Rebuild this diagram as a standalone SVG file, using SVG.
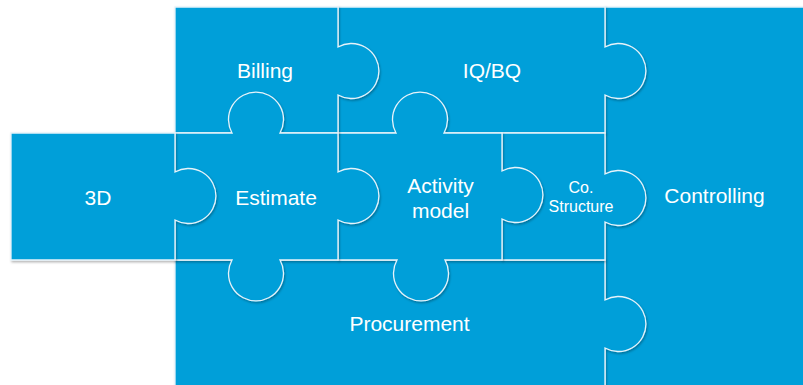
<svg xmlns="http://www.w3.org/2000/svg" width="803" height="385" viewBox="0 0 803 385">
<defs>
<filter id="sh" x="-10%" y="-10%" width="120%" height="120%">
<feDropShadow dx="1" dy="1.5" stdDeviation="1.2" flood-color="#000" flood-opacity="0.3"/>
</filter>
<style>
.pc{fill:#029fd9;stroke:#e6f3fa;stroke-width:1.3;filter:url(#sh)}
.t{fill:#fff;font-family:"Liberation Sans",Arial,sans-serif;font-size:21px;text-anchor:middle}
.s{font-size:16px}
</style>
</defs>
<rect width="803" height="385" fill="#fff"/>
<g id="controlling">
<path class="pc" d="M605,7 H812 V395 H605 Z"/>
<text class="t" x="714.5" y="203">Controlling</text>
</g>
<g id="procurement">
<path class="pc" d="M175,260 H605 V300 A27.5,27.5 0 1 1 605,348 V395 H175 Z"/>
<text class="t" x="409.5" y="331">Procurement</text>
</g>
<g id="iqbq">
<path class="pc" d="M338,7 H605 V47 A27.5,27.5 0 1 1 605,95 V133 H338 Z"/>
<text class="t" x="492" y="78">IQ/BQ</text>
</g>
<g id="costructure">
<path class="pc" d="M502,133 H605 V174 A27.5,27.5 0 1 1 605,222 V260 H502 Z"/>
<text class="t s" x="581" y="193">Co.</text>
<text class="t s" x="581" y="212">Structure</text>
</g>
<g id="activity">
<path class="pc" d="M338,133 H396 A27.5,27.5 0 1 1 444,133 H502 V171 A27.5,27.5 0 1 1 502,219 V260 H445 A27.5,27.5 0 1 1 397,260 H338 Z"/>
<text class="t" x="440.5" y="193">Activity</text>
<text class="t" x="440.5" y="218">model</text>
</g>
<g id="billing">
<path class="pc" d="M175,7 H338 V47 A27.5,27.5 0 1 1 338,95 V133 H175 Z"/>
<text class="t" x="265" y="78">Billing</text>
</g>
<g id="estimate">
<path class="pc" d="M175,133 H232 A27.5,27.5 0 1 1 280,133 H338 V172 A27.5,27.5 0 1 1 338,220 V260 H280 A27.5,27.5 0 1 1 232,260 H175 Z"/>
<text class="t" x="276" y="205">Estimate</text>
</g>
<g id="d3">
<path class="pc" d="M11,133 H175 V172 A27.5,27.5 0 1 1 175,220 V260 H11 Z"/>
<text class="t" x="98" y="205">3D</text>
</g>
<g id="connectors"/>
</svg>
